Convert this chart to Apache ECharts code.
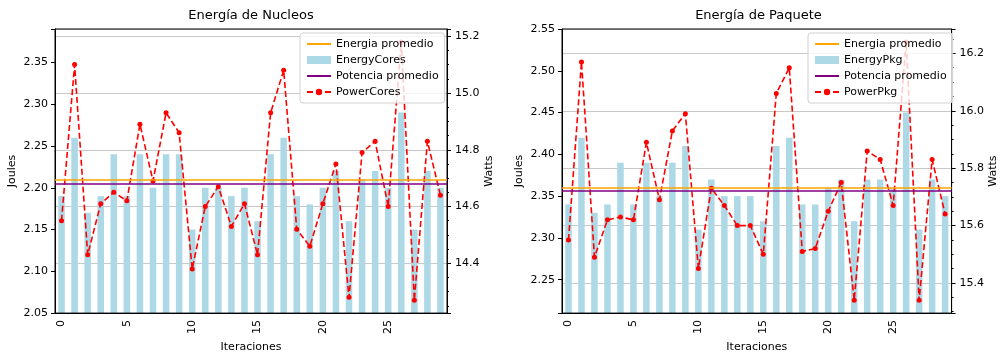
<!DOCTYPE html>
<html>
<head>
<meta charset="utf-8">
<script src="https://cdn.jsdelivr.net/npm/echarts@6/dist/echarts.min.js"></script>
<style>
  html, body { margin: 0; padding: 0; background: #fff; }
  #chart { width: 1000px; height: 358px; }
</style>
</head>
<body>
<div id="chart"></div>
<script>
// datos
const iteraciones = ['0', '1', '2', '3', '4', '5', '6', '7', '8', '9',
  '10', '11', '12', '13', '14', '15', '16', '17', '18', '19',
  '20', '21', '22', '23', '24', '25', '26', '27', '28', '29']

const energyCores = [2.19, 2.26, 2.17, 2.19, 2.24, 2.19, 2.24, 2.20, 2.24, 2.24,
  2.15, 2.20, 2.20, 2.19, 2.20, 2.16, 2.24, 2.26, 2.19, 2.18,
  2.20, 2.22, 2.16, 2.21, 2.22, 2.20, 2.29, 2.15, 2.22, 2.20]

const powerCores = [14.55, 15.10, 14.43, 14.61, 14.65, 14.62, 14.89, 14.69, 14.93, 14.86,
  14.38, 14.60, 14.67, 14.53, 14.61, 14.43, 14.93, 15.08, 14.52, 14.46,
  14.61, 14.75, 14.28, 14.79, 14.83, 14.60, 15.18, 14.27, 14.83, 14.64]

const energyPkg = [2.34, 2.42, 2.33, 2.34, 2.39, 2.34, 2.39, 2.35, 2.39, 2.41,
  2.31, 2.37, 2.35, 2.35, 2.35, 2.32, 2.41, 2.42, 2.34, 2.34,
  2.36, 2.37, 2.32, 2.37, 2.37, 2.36, 2.45, 2.31, 2.37, 2.35]

const powerPkg = [15.55, 16.17, 15.49, 15.62, 15.63, 15.62, 15.89, 15.69, 15.93, 15.99,
  15.45, 15.73, 15.67, 15.60, 15.60, 15.50, 16.06, 16.15, 15.51, 15.52,
  15.65, 15.75, 15.34, 15.86, 15.83, 15.67, 16.24, 15.34, 15.83, 15.64]

const titulos = ['Energía de Nucleos', 'Energía de Paquete']

const FONT = 'DejaVu Sans'
const grids = [
  { left: 55, top: 29, width: 392, height: 293 },
  { left: 562, top: 29, width: 393, height: 293 }
]
// icono de linea simple para la leyenda (sin marcador)
const LINE_ICON = 'path://M0,0M24,8M0,3L24,3L24,5L0,5Z'

function mean (arr) {
  return arr.reduce((a, b) => a + b, 0) / arr.length
}
function r3 (v) {
  return Math.round(v * 1000) / 1000
}
function fmt (step, dec) {
  return function (v) {
    const k = v / step
    return Math.abs(k - Math.round(k)) < 1e-6 ? v.toFixed(dec) : ''
  }
}

const charts = [
  { energy: energyCores, power: powerCores, eName: 'EnergyCores', pName: 'PowerCores' },
  { energy: energyPkg, power: powerPkg, eName: 'EnergyPkg', pName: 'PowerPkg' }
]

const option = {
  animation: false,
  textStyle: { fontFamily: FONT },
  title: [],
  legend: [],
  grid: [],
  xAxis: [],
  yAxis: [],
  series: []
}

charts.forEach((c, i) => {
  const g = grids[i]
  const eMin = r3(Math.min(...c.energy) - 0.1)
  const eMax = r3(Math.max(...c.energy) + 0.1)
  const pLo = Math.min(...c.power)
  const pHi = Math.max(...c.power)
  const pPad = (pHi - pLo) * 0.05

  option.grid.push({
    left: g.left, top: g.top, width: g.width, height: g.height,
    show: true, borderColor: '#000', borderWidth: 1, backgroundColor: 'transparent', z: 5
  })
  option.title.push({
    text: titulos[i],
    left: g.left + g.width / 2,
    textAlign: 'center',
    top: 9,
    padding: 0,
    textStyle: { fontFamily: FONT, fontSize: 13, fontWeight: 'normal', color: '#000' }
  })
  option.xAxis.push({
    type: 'category',
    gridIndex: i,
    data: iteraciones,
    boundaryGap: true,
    axisLine: { lineStyle: { color: '#000', width: 1 } },
    axisTick: { interval: 4, alignWithLabel: true, length: 4, lineStyle: { color: '#000' } },
    axisLabel: { interval: 4, rotate: 90, color: '#000', fontSize: 11, margin: 7, fontFamily: FONT },
    name: 'Iteraciones',
    nameLocation: 'middle',
    nameGap: 25,
    nameTextStyle: { fontFamily: FONT, fontSize: 11, color: '#000' }
  })
  option.yAxis.push({
    type: 'value',
    gridIndex: i,
    position: 'left',
    min: eMin,
    max: eMax,
    splitNumber: 7,
    axisLine: { show: true, lineStyle: { color: '#000', width: 1 } },
    axisTick: { show: true, length: 4, lineStyle: { color: '#000' } },
    splitLine: { show: false },
    axisLabel: { formatter: fmt(0.05, 2), color: '#000', fontSize: 11, margin: 7, fontFamily: FONT },
    name: 'Joules',
    nameLocation: 'middle',
    nameRotate: 90,
    nameGap: 37,
    nameTextStyle: { fontFamily: FONT, fontSize: 11, color: '#000' }
  })
  option.yAxis.push({
    type: 'value',
    gridIndex: i,
    position: 'right',
    min: pLo - pPad,
    max: pHi + pPad,
    splitNumber: 5,
    axisLine: { show: true, lineStyle: { color: '#000', width: 1 } },
    axisTick: { show: true, length: 4, lineStyle: { color: '#000' } },
    minorTick: { show: true, splitNumber: 4, length: 2, lineStyle: { color: '#000' } },
    splitLine: { show: true, lineStyle: { color: '#c8c8c8', width: 1 } },
    axisLabel: { formatter: fmt(0.2, 1), color: '#000', fontSize: 11, margin: 8, fontFamily: FONT },
    name: 'Watts',
    nameLocation: 'middle',
    nameRotate: 90,
    nameGap: 36,
    nameTextStyle: { fontFamily: FONT, fontSize: 11, color: '#000' }
  })

  const yE = i * 2
  const yP = i * 2 + 1
  option.series.push({
    name: c.eName,
    type: 'bar',
    xAxisIndex: i,
    yAxisIndex: yE,
    data: c.energy,
    barWidth: '50%',
    itemStyle: { color: '#add8e6' },
    z: 1
  })
  option.series.push({
    name: 'Energia promedio',
    type: 'line',
    xAxisIndex: i,
    yAxisIndex: yE,
    data: [],
    symbol: 'none',
    lineStyle: { color: 'orange', width: 1.6 },
    itemStyle: { color: 'orange' },
    markLine: {
      silent: true, symbol: 'none', label: { show: false },
      lineStyle: { color: 'orange', width: 1.6, type: 'solid' },
      data: [{ yAxis: mean(c.energy) }]
    },
    z: 2
  })
  option.series.push({
    name: 'Potencia promedio',
    type: 'line',
    xAxisIndex: i,
    yAxisIndex: yP,
    data: [],
    symbol: 'none',
    lineStyle: { color: 'purple', width: 1.6 },
    itemStyle: { color: 'purple' },
    markLine: {
      silent: true, symbol: 'none', label: { show: false },
      lineStyle: { color: 'purple', width: 1.6, type: 'solid' },
      data: [{ yAxis: mean(c.power) }]
    },
    z: 3
  })
  option.series.push({
    name: c.pName,
    type: 'line',
    xAxisIndex: i,
    yAxisIndex: yP,
    data: c.power,
    symbol: 'circle',
    symbolSize: 5,
    itemStyle: { color: 'red' },
    lineStyle: { color: 'red', width: 1.6, type: [6, 3] },
    z: 4
  })

  option.legend.push({
    orient: 'vertical',
    left: g.left + g.width - 147,
    top: 33,
    padding: [5, 6, 5, 6],
    itemWidth: 24,
    itemHeight: 8,
    itemGap: 4,
    backgroundColor: 'rgba(255,255,255,0.8)',
    borderColor: '#d0d0d0',
    borderWidth: 1,
    borderRadius: 3,
    textStyle: { fontFamily: FONT, fontSize: 11, color: '#000', lineHeight: 12 },
    data: [
      { name: 'Energia promedio', icon: LINE_ICON },
      { name: c.eName, icon: 'rect' },
      { name: 'Potencia promedio', icon: LINE_ICON },
      { name: c.pName }
    ],
    z: 10
  })
})

const myChart = echarts.init(document.getElementById('chart'), null, { renderer: 'canvas' })
myChart.setOption(option)
</script>
</body>
</html>
